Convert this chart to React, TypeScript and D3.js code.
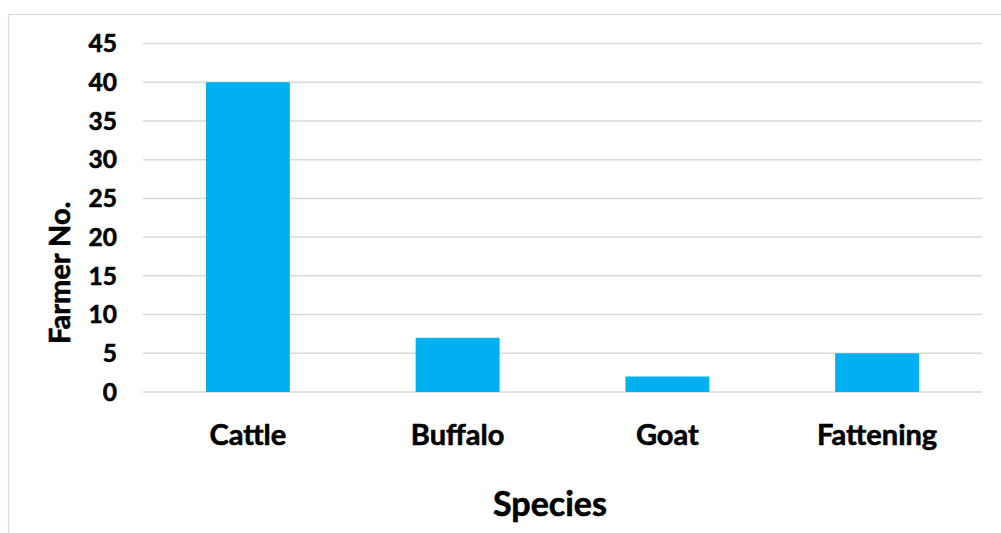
import { useEffect, useRef } from "react";
import * as d3 from "d3";

const categories = ["Cattle", "Buffalo", "Goat", "Fattening"];
const farmers = [40, 7, 2, 5];
const yTicks = [0, 5, 10, 15, 20, 25, 30, 35, 40, 45];

const barColor = "#00B0F0";
const gridColor = "#D9D9D9";
const font = "Lato, 'Open Sans', sans-serif";

export default function App() {
  const svgRef = useRef<SVGSVGElement>(null);

  useEffect(() => {
    const svg = d3.select(svgRef.current);
    svg.selectAll("*").remove();

    const width = 1001;
    const height = 533;
    const margin = { top: 43.5, right: 19, bottom: 141, left: 143 };

    // chart frame (runs off right and bottom edges)
    svg
      .append("rect")
      .attr("x", 8.5)
      .attr("y", 14.5)
      .attr("width", 1010)
      .attr("height", 540)
      .attr("fill", "#fff")
      .attr("stroke", gridColor)
      .attr("stroke-width", 1.2);

    const x = d3
      .scaleBand()
      .domain(categories)
      .range([margin.left, width - margin.right])
      .paddingInner(0.6)
      .paddingOuter(0.3);

    const y = d3
      .scaleLinear()
      .domain([0, 45])
      .range([height - margin.bottom, margin.top]);

    svg
      .append("g")
      .selectAll("line")
      .data(yTicks)
      .join("line")
      .attr("x1", margin.left)
      .attr("x2", width - margin.right)
      .attr("y1", (d) => y(d))
      .attr("y2", (d) => y(d))
      .attr("stroke", gridColor)
      .attr("stroke-width", 1.5);

    svg
      .append("g")
      .selectAll("rect")
      .data(categories)
      .join("rect")
      .attr("x", (d) => x(d)!)
      .attr("y", (d, i) => y(farmers[i]))
      .attr("width", x.bandwidth())
      .attr("height", (d, i) => y(0) - y(farmers[i]))
      .attr("fill", barColor);

    const bold = (sel: any, size: number) =>
      sel
        .attr("font-family", font)
        .attr("font-weight", 700)
        .attr("font-size", size)
        .attr("fill", "#000")
        .attr("stroke", "#000")
        .attr("stroke-width", 0.6);

    svg
      .append("g")
      .selectAll("text")
      .data(yTicks)
      .join("text")
      .attr("x", 117)
      .attr("y", (d) => y(d))
      .attr("dy", "0.36em")
      .attr("text-anchor", "end")
      .call(bold, 24.5)
      .text((d) => d);

    svg
      .append("g")
      .selectAll("text")
      .data(categories)
      .join("text")
      .attr("x", (d) => x(d)! + x.bandwidth() / 2)
      .attr("y", 445)
      .attr("text-anchor", "middle")
      .call(bold, 29)
      .text((d) => d);

    svg
      .append("text")
      .attr("x", 550)
      .attr("y", 516)
      .attr("text-anchor", "middle")
      .call(bold, 34)
      .text("Species");

    svg
      .append("text")
      .attr("transform", `translate(70,${(y(0) + y(45)) / 2 + 55}) rotate(-90)`)
      .attr("text-anchor", "middle")
      .call(bold, 29)
      .text("Farmer No.");
  }, []);

  return (
    <svg
      ref={svgRef}
      width={1001}
      height={533}
      style={{ position: "absolute", left: 0, top: 0 }}
    />
  );
}
